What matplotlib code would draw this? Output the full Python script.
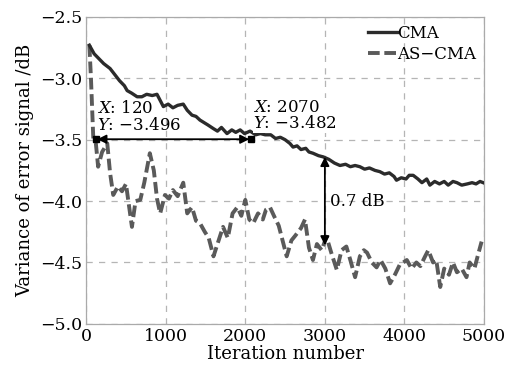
import numpy as np
import matplotlib
matplotlib.use("Agg")
import matplotlib.pyplot as plt

plt.rcParams['font.family'] = ['DejaVu Serif']
plt.rcParams['mathtext.fontset'] = 'dejavuserif'

# CMA curve
cma_x = [40, 100, 160, 220, 300, 360, 420, 480, 515, 570, 640, 700, 760, 830, 890, 930,
         970, 1030, 1090, 1150, 1220, 1270, 1330, 1380, 1430, 1480, 1530, 1600, 1650,
         1700, 1770, 1830, 1880, 1935, 1990, 2060, 2130, 2190, 2250, 2320, 2380, 2440,
         2500, 2560, 2600, 2650, 2700, 2760, 2800, 2850, 2920, 2980, 3050, 3120, 3190,
         3260, 3320, 3380, 3440, 3500, 3560, 3630, 3690, 3750, 3810, 3870, 3900, 3960,
         4020, 4060, 4110, 4170, 4220, 4280, 4320, 4380, 4440, 4500, 4550, 4610, 4660,
         4720, 4790, 4850, 4900, 4950, 4990]
cma_y = [-2.73, -2.80, -2.84, -2.88, -2.92, -2.97, -3.02, -3.06, -3.10, -3.12, -3.15, -3.15,
         -3.13, -3.14, -3.13, -3.18, -3.23, -3.21, -3.24, -3.22, -3.21, -3.26, -3.30, -3.31,
         -3.34, -3.36, -3.38, -3.41, -3.43, -3.40, -3.45, -3.42, -3.44, -3.42, -3.45, -3.43,
         -3.46, -3.45, -3.46, -3.46, -3.49, -3.48, -3.50, -3.53, -3.56, -3.55, -3.58, -3.57,
         -3.60, -3.61, -3.63, -3.64, -3.66, -3.69, -3.71, -3.70, -3.72, -3.71, -3.72, -3.74,
         -3.73, -3.75, -3.76, -3.78, -3.77, -3.80, -3.83, -3.81, -3.82, -3.79, -3.79, -3.82,
         -3.85, -3.82, -3.87, -3.84, -3.86, -3.84, -3.87, -3.84, -3.85, -3.87, -3.86, -3.85,
         -3.86, -3.84, -3.85]

# AS-CMA curve
as_x = [40, 60, 90, 120, 150, 200, 265, 300, 340, 400, 450, 500, 575, 620, 680, 730,
        800, 850, 890, 930, 990, 1040, 1090, 1150, 1220, 1270, 1330, 1380, 1430, 1490,
        1540, 1600, 1650, 1720, 1780, 1840, 1900, 1950, 2000, 2050, 2100, 2160, 2220,
        2260, 2310, 2360, 2420, 2460, 2520, 2580, 2630, 2700, 2750, 2800, 2850, 2900,
        2960, 3020, 3080, 3150, 3210, 3270, 3320, 3380, 3440, 3490, 3530, 3590, 3650,
        3700, 3760, 3820, 3880, 3940, 4030, 4090, 4150, 4200, 4260, 4300, 4360, 4400,
        4450, 4500, 4560, 4610, 4660, 4720, 4780, 4820, 4880, 4920, 4970]
as_y = [-2.73, -3.00, -3.50, -3.52, -3.72, -3.60, -3.53, -3.77, -3.95, -3.88, -3.92, -3.86,
        -4.21, -4.00, -3.99, -3.85, -3.61, -3.75, -3.98, -4.10, -3.95, -3.98, -3.91, -3.96,
        -3.85, -4.10, -4.05, -4.16, -4.18, -4.25, -4.30, -4.45, -4.35, -4.21, -4.30, -4.10,
        -4.05, -4.12, -3.99, -4.15, -4.18, -4.10, -4.15, -4.07, -4.05, -4.12, -4.20, -4.30,
        -4.45, -4.32, -4.28, -4.22, -4.15, -4.38, -4.48, -4.35, -4.40, -4.29, -4.42, -4.56,
        -4.40, -4.37, -4.48, -4.62, -4.45, -4.40, -4.42, -4.50, -4.54, -4.48, -4.55, -4.67,
        -4.60, -4.52, -4.48, -4.55, -4.50, -4.53, -4.45, -4.40, -4.50, -4.48, -4.70, -4.55,
        -4.60, -4.50, -4.58, -4.55, -4.62, -4.50, -4.55, -4.45, -4.33]

tips_x = [120, 2070]
tips_y = [-3.496, -3.482]
gap_x = 3000
gap_top, gap_bot = -3.64, -4.36

fig = plt.figure(figsize=(5.10, 3.77), dpi=100)
ax = fig.add_axes([0.169, 0.141, 0.78, 0.814])

ax.plot(cma_x, cma_y, color='#2b2b2b', lw=2.4, label='CMA', zorder=3)
ax.plot(as_x, as_y, color='#5a5a5a', lw=2.8, ls=(0, (3, 1.2)), label='AS\u2212CMA', zorder=2)

# data tips
ax.plot(tips_x, [-3.496, -3.496], 's', color='black', ms=5, zorder=5)
ax.annotate('', xy=(tips_x[0] + 20, -3.496), xytext=(tips_x[1] - 20, -3.496),
            arrowprops=dict(arrowstyle='<|-|>', color='black', lw=1.3,
                            mutation_scale=13, shrinkA=0, shrinkB=0), zorder=6)
ax.text(140, -3.45, '$X$: 120\n$Y$: \u22123.496', fontsize=12, va='bottom', ha='left',
        linespacing=0.95, zorder=6)
ax.text(2100, -3.44, '$X$: 2070\n$Y$: \u22123.482', fontsize=12, va='bottom', ha='left',
        linespacing=0.95, zorder=6,
        bbox=dict(facecolor='white', edgecolor='none', pad=0.5))

ax.annotate('', xy=(gap_x, gap_top), xytext=(gap_x, gap_bot),
            arrowprops=dict(arrowstyle='<|-|>', color='black', lw=1.3,
                            mutation_scale=13, shrinkA=0, shrinkB=0), zorder=6)
ax.text(gap_x + 60, -4.0, '0.7 dB', fontsize=12, va='center', ha='left', zorder=6)

ax.set_xlim(0, 5000)
ax.set_ylim(-5.0, -2.5)
ax.set_xticks([0, 1000, 2000, 3000, 4000, 5000])
ax.set_yticks([-5.0, -4.5, -4.0, -3.5, -3.0, -2.5])
ax.set_yticklabels(['\u22125.0', '\u22124.5', '\u22124.0', '\u22123.5', '\u22123.0', '\u22122.5'])
ax.tick_params(labelsize=12.5, length=0, pad=3)
ax.grid(True, ls=(0, (5, 5)), color='#b5b5b5', lw=0.9)
for s in ax.spines.values():
    s.set_color('#aaaaaa')
    s.set_linewidth(0.9)

ax.set_xlabel('Iteration number', fontsize=13, labelpad=0)
ax.set_ylabel('Variance of error signal /dB', fontsize=13, labelpad=4)

leg = ax.legend(loc='upper right', frameon=False, fontsize=12, handlelength=1.7,
                handletextpad=0.0, borderaxespad=0.1, labelspacing=0.2)

fig.savefig('out.png', dpi=100)
